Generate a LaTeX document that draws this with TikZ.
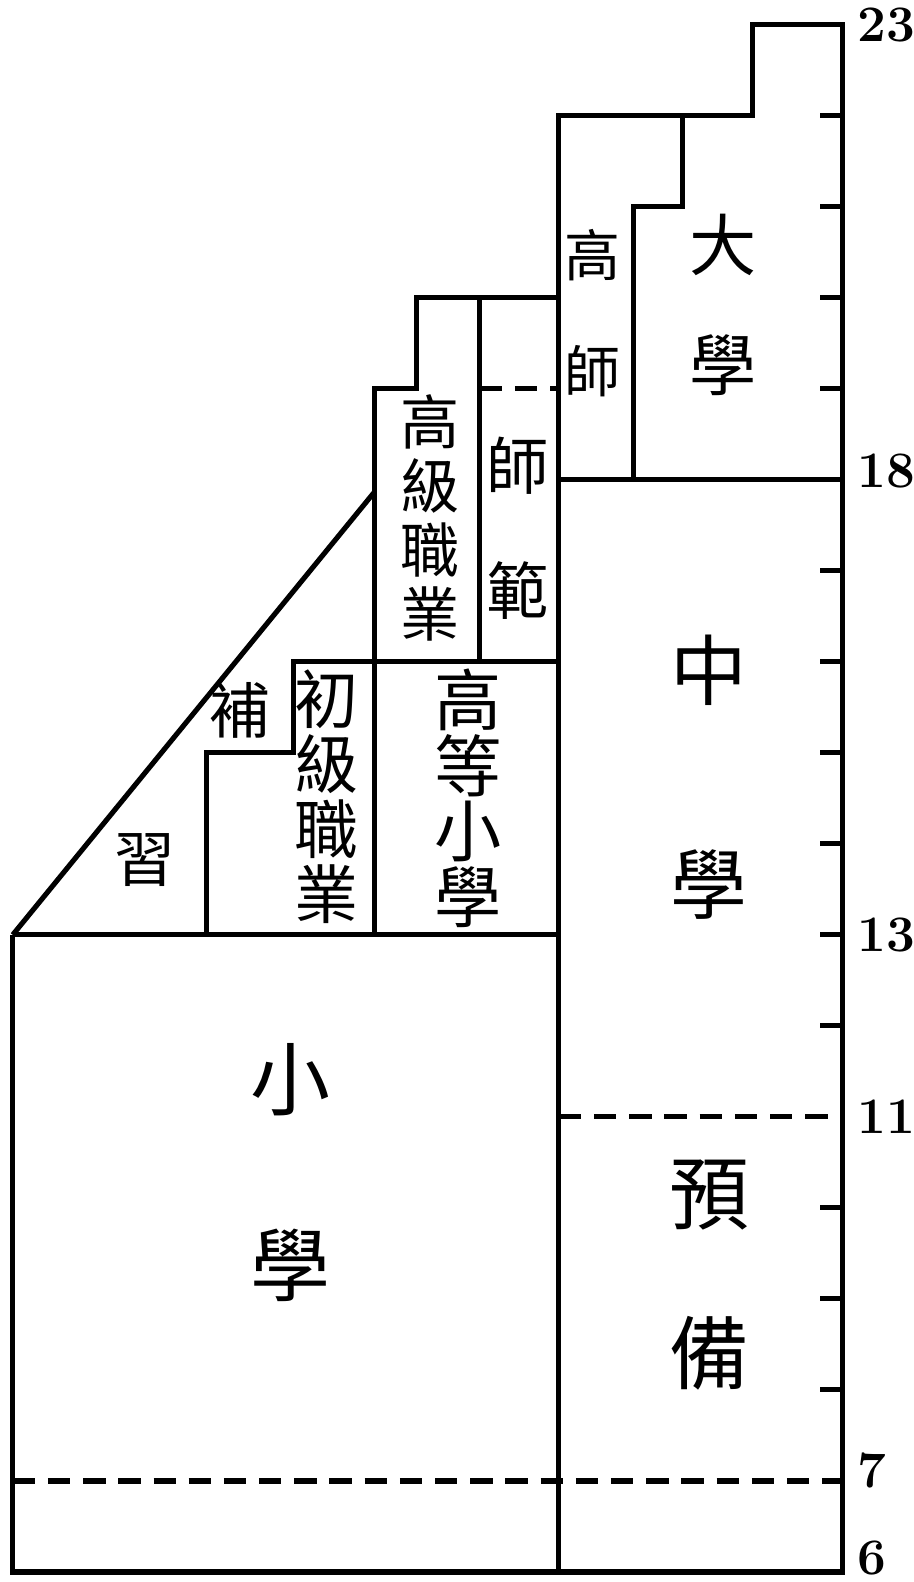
\documentclass[tikz,border=0pt]{standalone}
\usepackage{fontspec}
\newfontfamily\cjk{Noto Sans CJK TC}
\begin{document}
\begin{tikzpicture}[line width=1.6pt, line join=miter,
    zi/.style 2 args={font=\cjk\fontsize{#1}{#2}\selectfont, align=center, inner sep=0pt},
    num/.style={font=\bfseries\fontsize{16}{16}\selectfont, inner sep=0pt, anchor=west},
    cut/.style={dash pattern=on 7pt off 4pt}]
      \useasboundingbox (-0.14,5.89) rectangle (9.90,23.27);
      \draw (0,13)--(0,6)--(9.12,6)--(9.12,23)--(8.13,23)--(8.13,22)--(6,22)--(6,6);
      \draw (7.36,22)--(7.36,21)--(6.82,21)--(6.82,18); \draw (6,18)--(9.12,18);
      \draw (0,13)--(6,13); \draw (0,13)--(3.97,17.86);
      \draw (2.13,13)--(2.13,15)--(3.08,15)--(3.08,16)--(6,16);
      \draw (3.97,13)--(3.97,19)--(4.44,19)--(4.44,20)--(6,20); \draw (5.13,20)--(5.13,16);
      \draw[cut] (5.13,19)--(6,19); \draw[cut] (6,11)--(9.12,11); \draw[cut] (0,7)--(9.12,7);
      \draw (8.87,22)--(9.12,22); \draw (8.87,21)--(9.12,21); \draw (8.87,20)--(9.12,20); \draw (8.87,19)--(9.12,19);
      \draw (8.87,17)--(9.12,17); \draw (8.87,16)--(9.12,16); \draw (8.87,15)--(9.12,15); \draw (8.87,14)--(9.12,14);
      \draw (8.87,13)--(9.12,13); \draw (8.87,12)--(9.12,12); \draw (8.87,10)--(9.12,10); \draw (8.87,9)--(9.12,9);
      \draw (8.87,8)--(9.12,8);
      \node[zi={21}{37.5}] (daxue) at (7.8,19.92) {大\\學};
      \node[zi={17.5}{36.5}] (gaoshi) at (6.37,19.83) {高\\師};
      \node[zi={18.5}{20}] (gaoji) at (4.58,17.58) {高\\級\\職\\業};
      \node[zi={19.5}{39}] (shifan) at (5.55,17.47) {師\\範};
      \node[zi={21}{20.6}] (gaodeng) at (5.0,14.5) {高\\等\\小\\學};
      \node[zi={20}{20.3}] (chuji) at (3.45,14.52) {初\\級\\職\\業};
      \node[zi={19}{19}] (bu) at (2.5,15.47) {補}; \node[zi={19}{19}] (xi) at (1.45,13.82) {習};
      \node[zi={24}{67}] (zhongxue) at (7.65,14.73) {中\\學};
      \node[zi={25}{50}] (yubei) at (7.65,9.26) {預\\備};
      \node[zi={25}{58}] (xiaoxue) at (3.05,10.39) {小\\學};
      \node[num] (n23) at (9.25,23) {23}; \node[num] (n18) at (9.25,18.1) {18};
      \node[num] (n13) at (9.25,13) {13}; \node[num] (n11) at (9.25,11) {11};
      \node[num] (n7) at (9.25,7.12) {7}; \node[num] (n6) at (9.25,6.15) {6};
\end{tikzpicture}
\end{document}
